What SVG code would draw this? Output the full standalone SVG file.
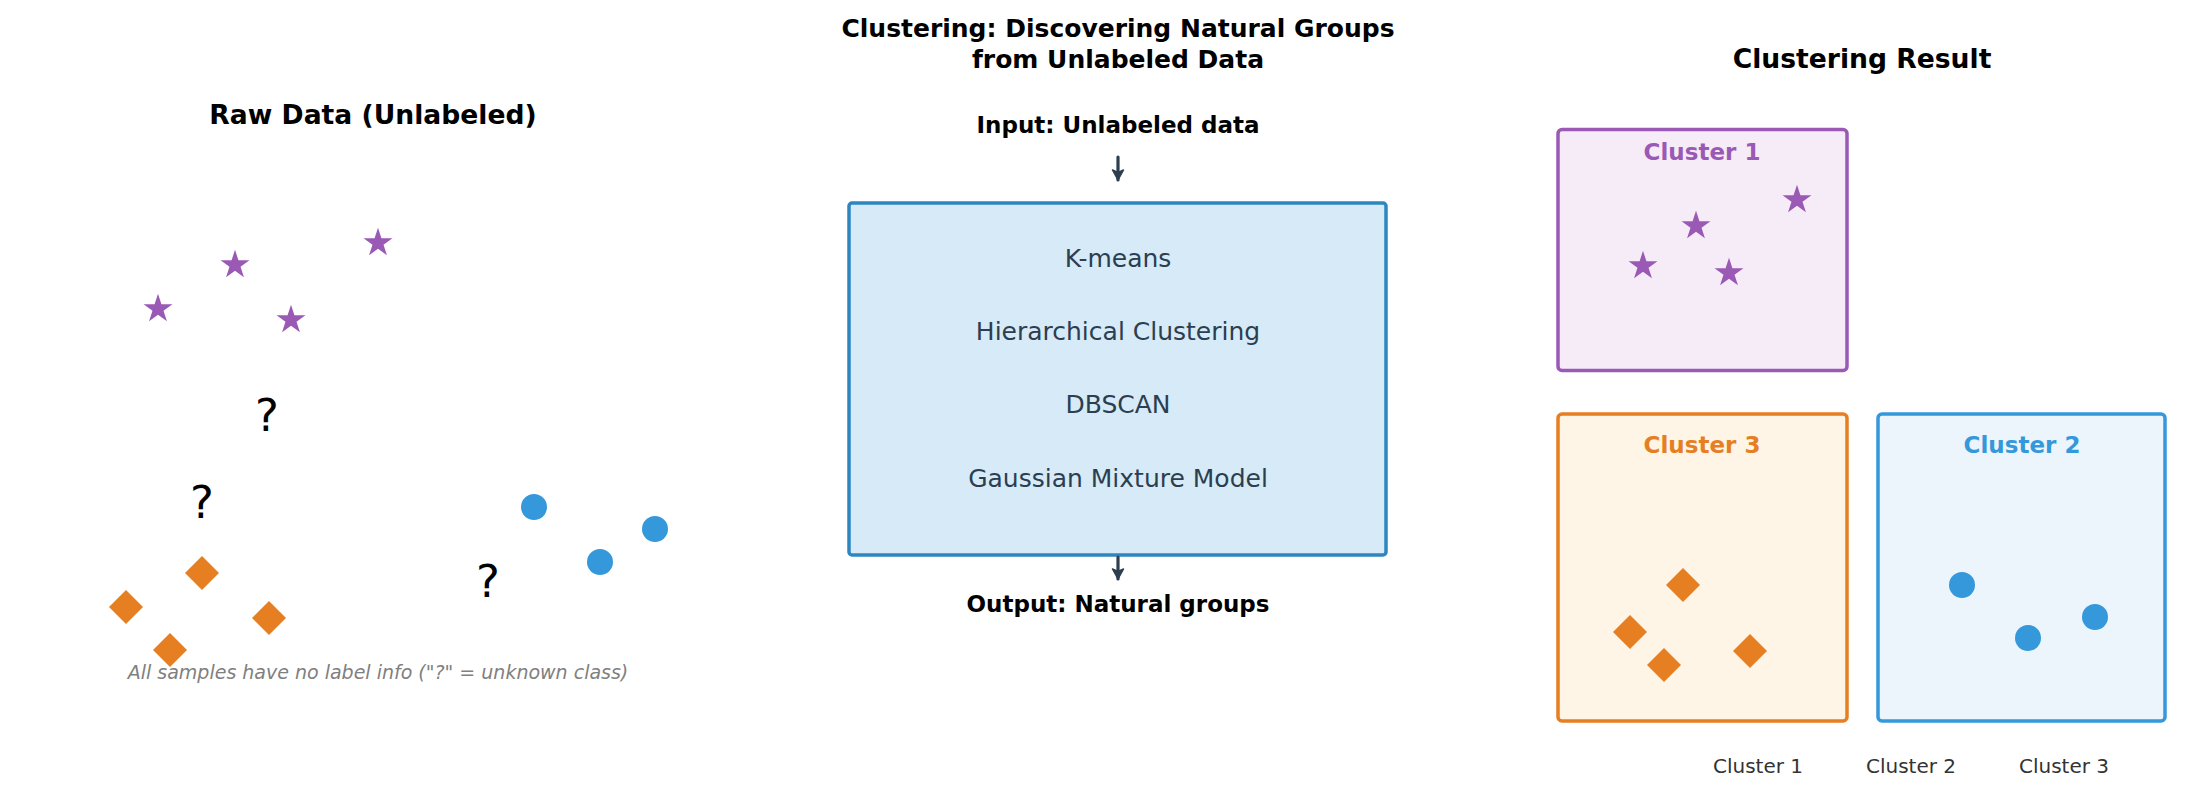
<svg xmlns="http://www.w3.org/2000/svg" width="2209" height="792" viewBox="0 0 2209 792">
<style>
text{font-family:"DejaVu Sans","Liberation Sans",sans-serif;text-anchor:middle}
.ttl{font-weight:bold;font-size:26.6px;fill:#000}
.mtl{font-weight:bold;font-size:25px;fill:#000}
.io{font-weight:bold;font-size:23px;fill:#000}
.alg{font-size:25px;fill:#2c3e50}
.q{font-size:45px;fill:#000}
.note{font-style:italic;font-size:19px;fill:#808080}
.cl{font-weight:bold;font-size:23px}
.bl{font-size:20px;fill:#333}
.pur{fill:#9b59b6}.org{fill:#e67e22}.blu{fill:#3498db}
.conn{stroke:#2c3e50;stroke-width:3.2;fill:none;stroke-linecap:round}
</style>
<defs>
<path id="star" d="M0,-15.2 L3.415,-4.7 L14.456,-4.697 L5.526,1.795 L8.934,12.297 L0,5.81 L-8.934,12.297 L-5.526,1.795 L-14.456,-4.697 L-3.415,-4.7 Z"/>
<path id="dia" d="M0,-17 L17,0 L0,17 L-17,0 Z"/>
<circle id="dot" r="13"/>
<marker id="ah" markerUnits="userSpaceOnUse" markerWidth="16" markerHeight="16" viewBox="0 0 16 16" refX="14" refY="8" orient="auto">
<path d="M4,2.5 L14,8 L4,13.5 L6.5,8 Z" fill="#2c3e50" stroke="#2c3e50" stroke-width="1.5" stroke-linejoin="round"/>
</marker>
</defs>
<rect width="2209" height="792" fill="#fff"/>

<g id="raw-data">
<text class="ttl" x="373" y="124">Raw Data (Unlabeled)</text>
<g class="pur">
<use href="#star" x="158" y="309"/>
<use href="#star" x="235" y="265"/>
<use href="#star" x="291" y="320"/>
<use href="#star" x="378" y="243"/>
</g>
<g class="org">
<use href="#dia" x="126" y="607"/>
<use href="#dia" x="202" y="573"/>
<use href="#dia" x="269" y="618"/>
<use href="#dia" x="170" y="650"/>
</g>
<g class="blu">
<use href="#dot" x="534" y="507"/>
<use href="#dot" x="600" y="562"/>
<use href="#dot" x="655" y="529"/>
</g>
<text class="q" x="267" y="431">?</text>
<text class="q" x="202" y="518">?</text>
<text class="q" x="488" y="597">?</text>
<text class="note" x="378" y="679">All samples have no label info ("?" = unknown class)</text>
</g>

<g id="main-title">
<text class="mtl" x="1118" y="37">Clustering: Discovering Natural Groups</text>
<text class="mtl" x="1118" y="68">from Unlabeled Data</text>
</g>

<g id="input-label"><text class="io" x="1118" y="133">Input: Unlabeled data</text></g>

<g id="algorithms">
<rect x="849" y="203" width="537" height="352" rx="3" fill="#d6eaf8" stroke="#2e86c1" stroke-width="3.5"/>
<text class="alg" x="1118" y="267">K-means</text>
<text class="alg" x="1118" y="340">Hierarchical Clustering</text>
<text class="alg" x="1118" y="413">DBSCAN</text>
<text class="alg" x="1118" y="487">Gaussian Mixture Model</text>
</g>

<g id="output-label"><text class="io" x="1118" y="612">Output: Natural groups</text></g>

<g id="connectors">
<line class="conn" x1="1118" y1="157" x2="1118" y2="180" marker-end="url(#ah)"/>
<line class="conn" x1="1118" y1="557" x2="1118" y2="579" marker-end="url(#ah)"/>
</g>

<g id="result-title"><text class="ttl" x="1862" y="68">Clustering Result</text></g>

<g id="cluster-1">
<rect x="1558" y="129.5" width="289" height="241" rx="4" fill="#f5ecf8" stroke="#9b59b6" stroke-width="3.5"/>
<text class="cl pur" x="1702" y="160">Cluster 1</text>
<g class="pur">
<use href="#star" x="1643" y="266"/>
<use href="#star" x="1696" y="226"/>
<use href="#star" x="1729" y="273"/>
<use href="#star" x="1797" y="200"/>
</g>
</g>

<g id="cluster-3">
<rect x="1558" y="414" width="289" height="307" rx="4" fill="#fef5e7" stroke="#e67e22" stroke-width="3.5"/>
<text class="cl org" x="1702" y="453">Cluster 3</text>
<g class="org">
<use href="#dia" x="1683" y="585"/>
<use href="#dia" x="1630" y="632"/>
<use href="#dia" x="1664" y="665"/>
<use href="#dia" x="1750" y="651"/>
</g>
</g>

<g id="cluster-2">
<rect x="1878" y="414" width="287" height="307" rx="4" fill="#ebf5fb" stroke="#3498db" stroke-width="3.5"/>
<text class="cl blu" x="2022" y="453">Cluster 2</text>
<g class="blu">
<use href="#dot" x="1962" y="585"/>
<use href="#dot" x="2028" y="638"/>
<use href="#dot" x="2095" y="617"/>
</g>
</g>

<g id="legend-labels">
<text class="bl" x="1758" y="773">Cluster 1</text>
<text class="bl" x="1911" y="773">Cluster 2</text>
<text class="bl" x="2064" y="773">Cluster 3</text>
</g>
</svg>
